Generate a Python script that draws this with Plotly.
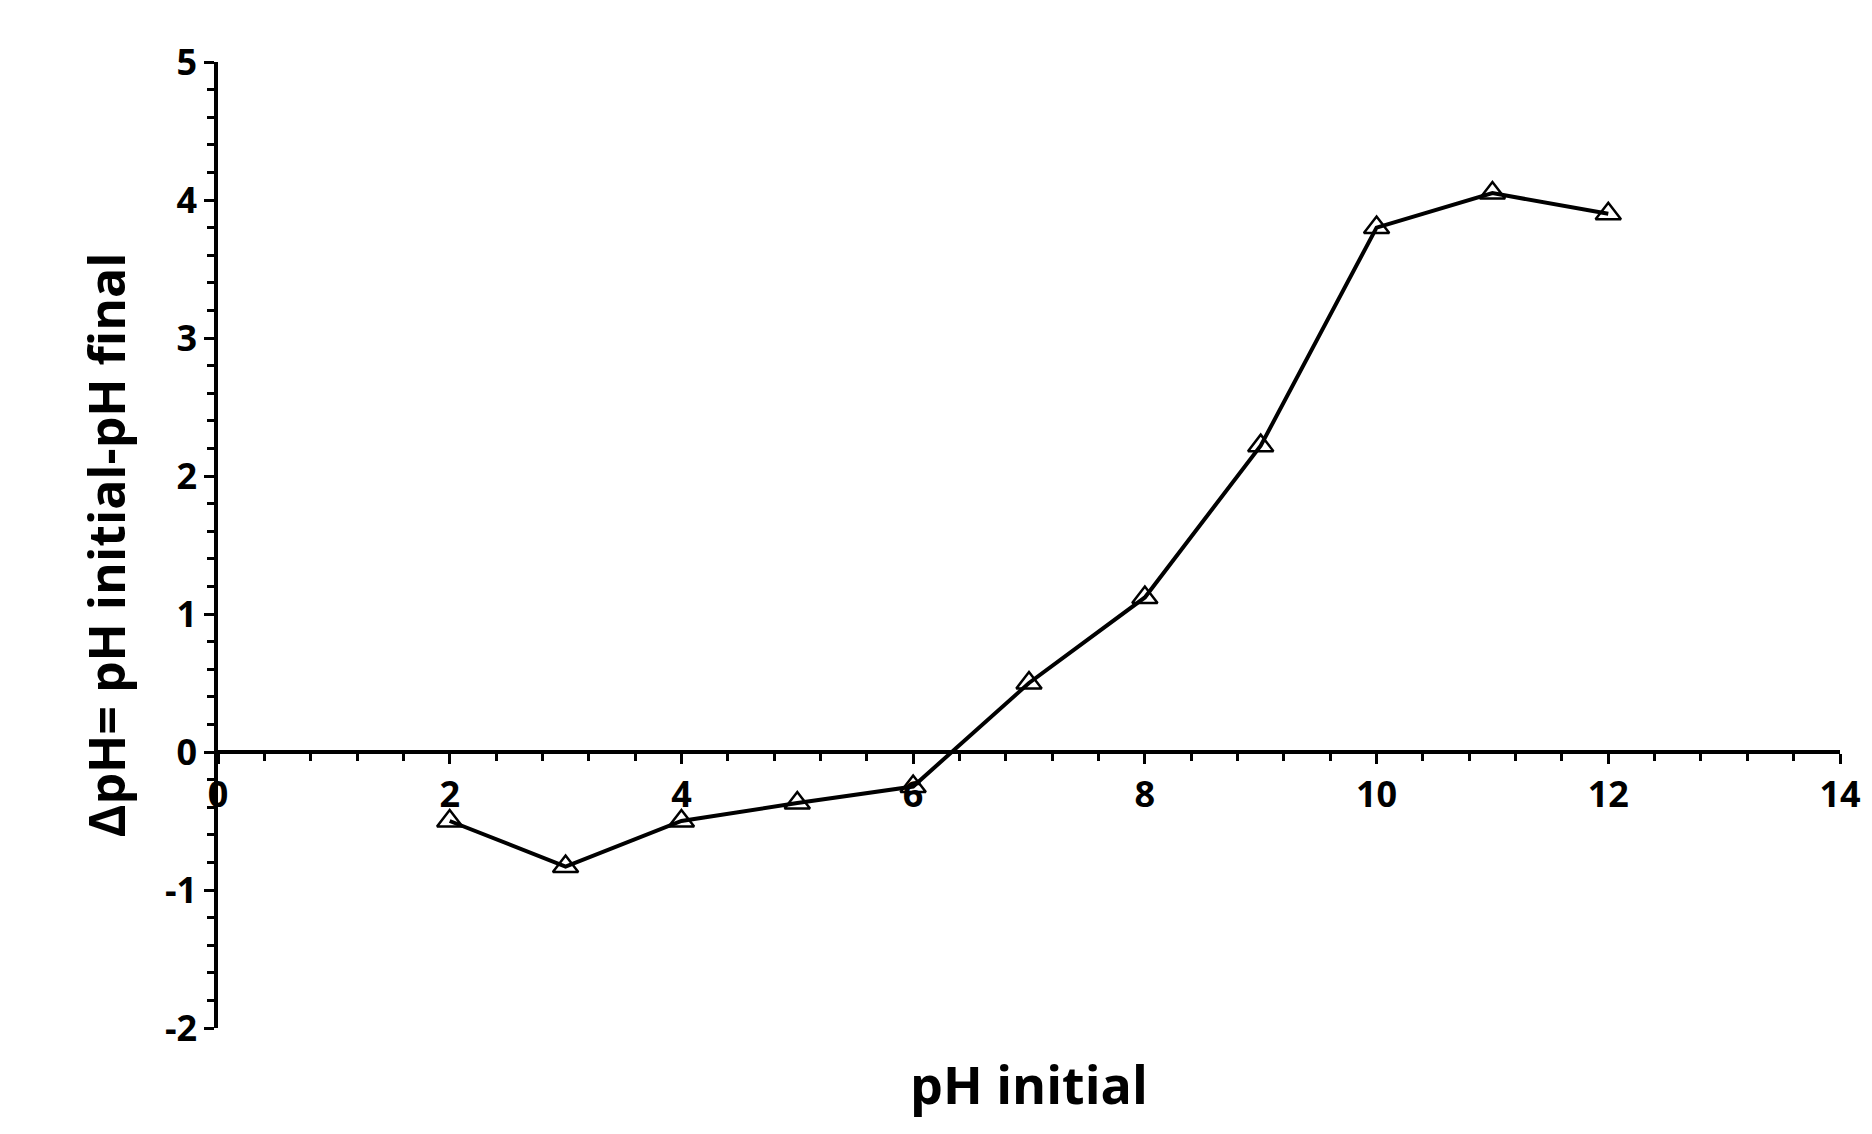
import plotly.graph_objects as go

ph_initial = [2, 3, 4, 5, 6, 7, 8, 9, 10, 11, 12]
delta_ph = [-0.5, -0.83, -0.5, -0.37, -0.25, 0.5, 1.12, 2.22, 3.8, 4.05, 3.9]
y_ticks = [-2, -1, 0, 1, 2, 3, 4, 5]
y_tick_labels = ["-2", "-1", "0", "1", "2", "3", "4", "5"]

fig = go.Figure(go.Scatter(
    x=ph_initial, y=delta_ph, mode="lines+markers",
    line=dict(color="black", width=4),
    marker=dict(symbol="triangle-up-open", size=22, color="black", line=dict(width=2.5)),
    showlegend=False))

fnt = dict(family="Open Sans", size=36, color="black", weight="bold")
fig.update_layout(
    width=1872, height=1134, plot_bgcolor="white", paper_bgcolor="white",
    margin=dict(l=210, r=40, t=54, b=114),
    font=fnt,
    xaxis=dict(range=[0, 14], dtick=2, anchor="free", position=2/7,
               showline=True, linecolor="black", linewidth=3.5, showgrid=False, zeroline=False,
               ticks="outside", ticklen=10, tickwidth=3, tickcolor="black", tickfont=fnt,
               minor=dict(dtick=0.4, ticks="outside", ticklen=7, tickwidth=2.5, tickcolor="black")),
    yaxis=dict(range=[-2, 5], tickvals=y_ticks, ticktext=y_tick_labels,
               showline=True, linecolor="black", linewidth=3.5,
               showgrid=False, zeroline=False,
               ticks="outside", ticklen=10, tickwidth=3, tickcolor="black", tickfont=fnt,
               minor=dict(dtick=0.2, ticks="outside", ticklen=7, tickwidth=2.5, tickcolor="black"),
               title=dict(text="ΔpH= pH initial-pH final", font=dict(family="Open Sans", size=50, color="black", weight="bold"), standoff=24)),
    annotations=[dict(text="pH initial", x=0.5, y=0, xref="paper", yref="paper", yanchor="top",
                      yshift=-18, showarrow=False,
                      font=dict(family="Open Sans", size=52, color="black", weight="bold"))],
)
fig.write_html("out.html")
